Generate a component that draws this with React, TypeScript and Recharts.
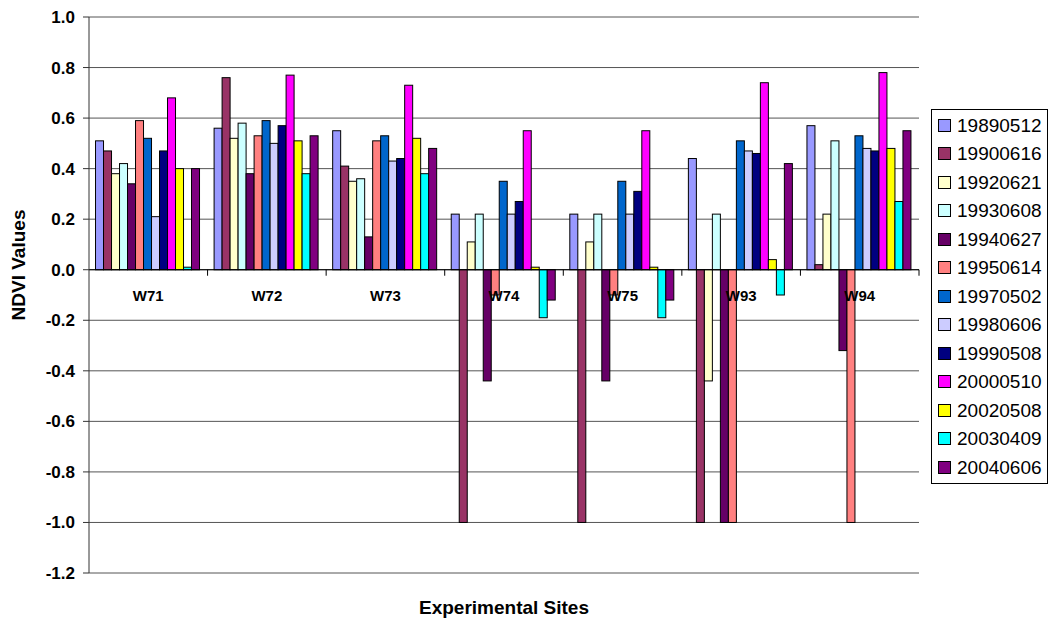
import {
  Bar,
  BarChart,
  CartesianGrid,
  Legend,
  ReferenceLine,
  XAxis,
  YAxis,
} from 'recharts';

// sites on the x axis
const sites = ['W71', 'W72', 'W73', 'W74', 'W75', 'W93', 'W94'];

// image dates (one series each)
const dates = [
  '19890512',
  '19900616',
  '19920621',
  '19930608',
  '19940627',
  '19950614',
  '19970502',
  '19980606',
  '19990508',
  '20000510',
  '20020508',
  '20030409',
  '20040606',
];

// NDVI per date, in the order of sites
const v19890512 = [0.51, 0.56, 0.55, 0.22, 0.22, 0.44, 0.57];
const v19900616 = [0.47, 0.76, 0.41, -1.0, -1.0, -1.0, 0.02];
const v19920621 = [0.38, 0.52, 0.35, 0.11, 0.11, -0.44, 0.22];
const v19930608 = [0.42, 0.58, 0.36, 0.22, 0.22, 0.22, 0.51];
const v19940627 = [0.34, 0.38, 0.13, -0.44, -0.44, -1.0, -0.32];
const v19950614 = [0.59, 0.53, 0.51, -0.1, -0.1, -1.0, -1.0];
const v19970502 = [0.52, 0.59, 0.53, 0.35, 0.35, 0.51, 0.53];
const v19980606 = [0.21, 0.5, 0.43, 0.22, 0.22, 0.47, 0.48];
const v19990508 = [0.47, 0.57, 0.44, 0.27, 0.31, 0.46, 0.47];
const v20000510 = [0.68, 0.77, 0.73, 0.55, 0.55, 0.74, 0.78];
const v20020508 = [0.4, 0.51, 0.52, 0.01, 0.01, 0.04, 0.48];
const v20030409 = [0.01, 0.38, 0.38, -0.19, -0.19, -0.1, 0.27];
const v20040606 = [0.4, 0.53, 0.48, -0.12, -0.12, 0.42, 0.55];

const valores = [
  v19890512,
  v19900616,
  v19920621,
  v19930608,
  v19940627,
  v19950614,
  v19970502,
  v19980606,
  v19990508,
  v20000510,
  v20020508,
  v20030409,
  v20040606,
];

const yTicks = [1.0, 0.8, 0.6, 0.4, 0.2, 0.0, -0.2, -0.4, -0.6, -0.8, -1.0, -1.2];

// excel default palette
const cores = [
  '#9999FF',
  '#993366',
  '#FFFFCC',
  '#CCFFFF',
  '#660066',
  '#FF8080',
  '#0066CC',
  '#CCCCFF',
  '#000080',
  '#FF00FF',
  '#FFFF00',
  '#00FFFF',
  '#800080',
];

const fonte = 'Arial, "Liberation Sans", sans-serif';

const dados = sites.map((site, i) => {
  const row: Record<string, string | number> = { site };
  dates.forEach((d, j) => {
    row[d] = valores[j][i];
  });
  return row;
});

// category labels + group ticks drawn along the zero line
function SiteLabels(props: any) {
  const vb = props.viewBox;
  if (!vb) return null;
  const step = vb.width / sites.length;
  return (
    <g>
      {sites.map((s, i) => (
        <g key={s}>
          <line
            x1={vb.x + step * (i + 1)}
            x2={vb.x + step * (i + 1)}
            y1={vb.y}
            y2={vb.y + 6}
            stroke="#000"
          />
          <text
            x={vb.x + step * (i + 0.5)}
            y={vb.y + 31}
            textAnchor="middle"
            fontFamily={fonte}
            fontWeight="bold"
            fontSize={15}
            fill="#000"
          >
            {s}
          </text>
        </g>
      ))}
    </g>
  );
}

function YTitle(props: any) {
  const vb = props.viewBox;
  if (!vb) return null;
  const cx = vb.x + 18;
  const cy = vb.y + vb.height / 2 - 30;
  return (
    <text
      x={cx}
      y={cy}
      transform={`rotate(-90 ${cx} ${cy})`}
      textAnchor="middle"
      dominantBaseline="central"
      fontFamily={fonte}
      fontWeight="bold"
      fontSize={19}
      fill="#000"
    >
      NDVI Values
    </text>
  );
}

// bar with black outline (x/y/width/height come from the bar scale)
function Barra(props: any) {
  const { x, y, width, height, fill } = props;
  if (width == null || height == null) return null;
  const topo = height < 0 ? y + height : y;
  return (
    <rect
      x={x}
      y={topo}
      width={width}
      height={Math.abs(height)}
      fill={fill}
      stroke="#000"
      strokeWidth={1}
    />
  );
}

function Legenda() {
  return (
    <div
      style={{
        border: '1px solid #000',
        background: '#fff',
        padding: '1px 0',
        fontFamily: fonte,
        fontSize: 19,
        color: '#000',
        textAlign: 'left',
      }}
    >
      {dates.map((d, i) => (
        <div
          key={d}
          style={{
            height: 28.5,
            display: 'flex',
            alignItems: 'center',
            paddingLeft: 6,
          }}
        >
          <span
            style={{
              width: 11,
              height: 11,
              background: cores[i],
              border: '1px solid #000',
              marginRight: 6,
              flex: 'none',
            }}
          />
          <span style={{ lineHeight: 1 }}>{d}</span>
        </div>
      ))}
    </div>
  );
}

export default function App() {
  return (
    <div
      style={{
        position: 'absolute',
        left: 0,
        top: 0,
        width: 1050,
        height: 619,
        background: '#fff',
      }}
    >
      <BarChart
        width={1050}
        height={619}
        data={dados}
        margin={{ top: 17, right: 131, bottom: 0, left: 0 }}
        barCategoryGap="5.5%"
        barGap={0}
      >
        <CartesianGrid vertical={false} stroke="#555" />
        <XAxis
          dataKey="site"
          height={46}
          axisLine={false}
          tickLine={false}
          tick={false}
          label={{
            value: 'Experimental Sites',
            position: 'insideBottom',
            offset: 5,
            style: {
              fontFamily: fonte,
              fontWeight: 'bold',
              fontSize: 19,
              fill: '#000',
            },
          }}
        />
        <YAxis
          width={89}
          domain={[-1.2, 1]}
          ticks={yTicks}
          interval={0}
          tickFormatter={(v: number) => v.toFixed(1)}
          tickSize={6}
          tickMargin={8}
          axisLine={{ stroke: '#333' }}
          tickLine={{ stroke: '#333' }}
          tick={{
            fontFamily: fonte,
            fontWeight: 'bold',
            fontSize: 17,
            fill: '#000',
          }}
          label={<YTitle />}
        />
        <YAxis
          yAxisId="borda"
          orientation="right"
          width={0}
          domain={[-1.2, 1]}
          tick={false}
          tickLine={false}
          axisLine={{ stroke: '#888' }}
        />
        {dates.map((d, i) => (
          <Bar
            key={d}
            dataKey={d}
            name={d}
            fill={cores[i]}
            shape={<Barra />}
            isAnimationActive={false}
          />
        ))}
        <ReferenceLine y={0} stroke="#000" label={<SiteLabels />} />
        <Legend
          layout="vertical"
          verticalAlign="middle"
          align="center"
          content={<Legenda />}
          wrapperStyle={{
            position: 'absolute',
            left: 931,
            top: 109,
            width: 117,
          }}
        />
      </BarChart>
    </div>
  );
}
